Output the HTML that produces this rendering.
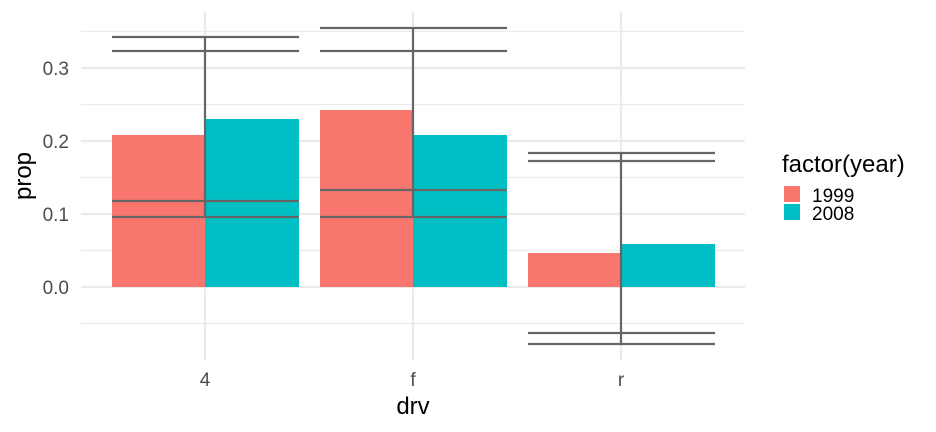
<!DOCTYPE html><html><head><style>body{margin:0;background:#fff}svg{display:block}text{font-family:"Liberation Sans",Arial,sans-serif}</style></head><body>
<svg width="936" height="432" viewBox="0 0 936 432">
<g stroke="#ebebeb" stroke-width="1.2">
<line x1="81" x2="745" y1="31.5" y2="31.5"/><line x1="81" x2="745" y1="104.5" y2="104.5"/><line x1="81" x2="745" y1="177.5" y2="177.5"/><line x1="81" x2="745" y1="250.5" y2="250.5"/><line x1="81" x2="745" y1="323.5" y2="323.5"/>
</g>
<g stroke="#ebebeb" stroke-width="2.2">
<line x1="81" x2="745" y1="68" y2="68"/><line x1="81" x2="745" y1="141" y2="141"/><line x1="81" x2="745" y1="214" y2="214"/><line x1="81" x2="745" y1="287" y2="287"/>
<line x1="205" x2="205" y1="12" y2="360"/><line x1="413" x2="413" y1="12" y2="360"/><line x1="621" x2="621" y1="12" y2="360"/>
</g>
<rect x="112" y="135" width="93" height="152" fill="#F8766D"/>
<rect x="205" y="119" width="94" height="168" fill="#00BFC4"/>
<rect x="320" y="110" width="93" height="177" fill="#F8766D"/>
<rect x="413" y="135" width="94" height="152" fill="#00BFC4"/>
<rect x="528" y="253" width="93" height="34" fill="#F8766D"/>
<rect x="621" y="244" width="94" height="43" fill="#00BFC4"/>
<g stroke="#666" stroke-width="2.2">
<line x1="205" x2="205" y1="37" y2="217"/>
<line x1="112" x2="299" y1="37" y2="37"/><line x1="112" x2="299" y1="51" y2="51"/><line x1="112" x2="299" y1="201" y2="201"/><line x1="112" x2="299" y1="217" y2="217"/>
<line x1="413" x2="413" y1="28" y2="217"/>
<line x1="320" x2="507" y1="28" y2="28"/><line x1="320" x2="507" y1="51" y2="51"/><line x1="320" x2="507" y1="190" y2="190"/><line x1="320" x2="507" y1="217" y2="217"/>
<line x1="621" x2="621" y1="153" y2="344"/>
<line x1="528" x2="715" y1="153" y2="153"/><line x1="528" x2="715" y1="161" y2="161"/><line x1="528" x2="715" y1="333" y2="333"/><line x1="528" x2="715" y1="344" y2="344"/>
</g>
<g fill="#4d4d4d" font-size="19" text-anchor="end">
<text x="69" y="75">0.3</text><text x="69" y="148">0.2</text><text x="69" y="221">0.1</text><text x="69" y="294">0.0</text>
</g>
<g fill="#4d4d4d" font-size="19" text-anchor="middle">
<text x="205" y="386">4</text><text x="413" y="386">f</text><text x="621" y="386">r</text>
</g>
<text x="413" y="414" font-size="24" text-anchor="middle" fill="#000">drv</text>
<text transform="translate(31,176) rotate(-90)" font-size="24" text-anchor="middle" fill="#000">prop</text>
<text x="782" y="172" font-size="24" fill="#000">factor(year)</text>
<rect x="784" y="186" width="16" height="16" fill="#F8766D"/>
<rect x="784" y="204" width="16" height="16" fill="#00BFC4"/>
<text x="812" y="202" font-size="19" fill="#000">1999</text>
<text x="812" y="220" font-size="19" fill="#000">2008</text>
</svg>
</body></html>
